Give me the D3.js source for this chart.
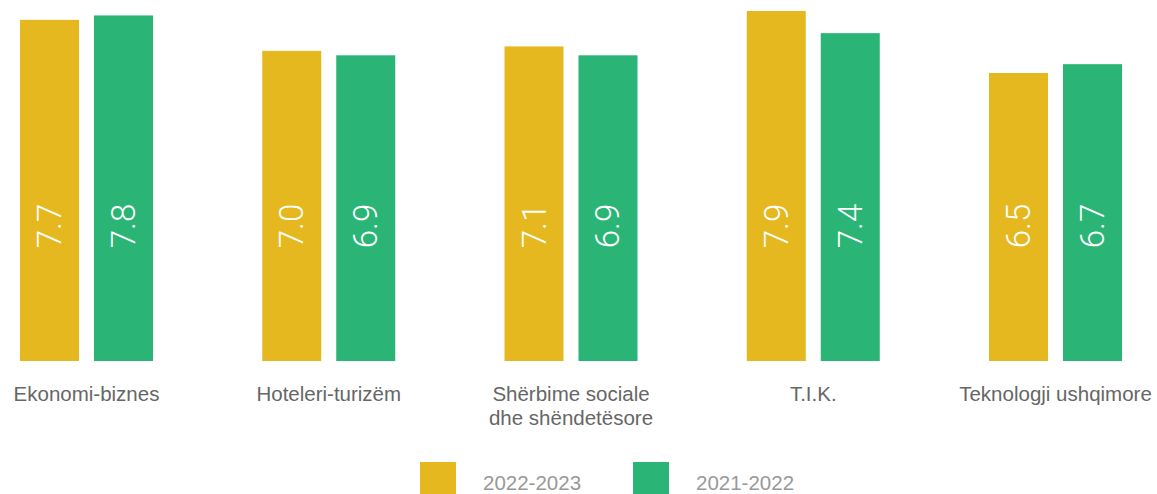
<!DOCTYPE html>
<html>
<head>
<meta charset="utf-8">
<script src="https://cdn.jsdelivr.net/npm/d3@7"></script>
<style>
  body { margin: 0; background: #fff; }
  svg { display: block; }
</style>
</head>
<body>
<svg id="chart"></svg>
<script>
const categories = [
  ["Ekonomi-biznes"],
  ["Hoteleri-turizëm"],
  ["Shërbime sociale", "dhe shëndetësore"],
  ["T.I.K."],
  ["Teknologji ushqimore"]
];
const series = ["2022-2023", "2021-2022"];
const values2022 = [7.7, 7.0, 7.1, 7.9, 6.5];
const values2021 = [7.8, 6.9, 6.9, 7.4, 6.7];
const colors = ["#E5B820", "#2AB577"];

const width = 1157, height = 494;
const svg = d3.select("#chart").attr("width", width).attr("height", height);

const keys = categories.map((c) => c.join(" "));
const rows = keys.map((k, i) => ({ key: k, lines: categories[i], vals: [values2022[i], values2021[i]] }));

const x0 = d3.scaleBand().domain(keys).range([20, 1122]).paddingInner(0.451).paddingOuter(0);
const x1 = d3.scaleBand().domain(series).range([0, x0.bandwidth()]).paddingInner(0.2027);
const y = d3.scaleLinear().domain([0, 7.9]).range([361, 11]);

const groups = svg.append("g").attr("class", "groups")
  .selectAll("g")
  .data(rows)
  .enter()
  .append("g")
  .attr("transform", (d) => `translate(${x0(d.key)},0)`);

// bars
groups.selectAll("rect")
  .data((d) => d.vals.map((v, i) => ({ s: series[i], v: v, i: i })))
  .enter()
  .append("rect")
  .attr("x", (d) => x1(d.s))
  .attr("y", (d) => y(d.v))
  .attr("width", x1.bandwidth())
  .attr("height", (d) => y(0) - y(d.v))
  .attr("fill", (d) => colors[d.i]);

// value labels, rotated
groups.selectAll("text.val")
  .data((d) => d.vals.map((v, i) => ({ s: series[i], v: v })))
  .enter()
  .append("text")
  .attr("class", "val")
  .attr("transform", (d) => `translate(${x1(d.s) + x1.bandwidth() / 2 + 11.5},226) rotate(-90)`)
  .attr("text-anchor", "middle")
  .attr("fill", "#fff")
  .style("font-family", "Roboto, 'Open Sans', sans-serif")
  .style("font-weight", 300)
  .style("font-size", "33px")
  .text((d) => d3.format(".1f")(d.v));

// category labels
const lab = groups.append("text")
  .attr("text-anchor", "middle")
  .attr("fill", "#666")
  .style("font-family", "'Liberation Sans', Arial, sans-serif")
  .style("font-size", "20.5px");
lab.selectAll("tspan")
  .data((d) => d.lines)
  .enter()
  .append("tspan")
  .attr("x", x0.bandwidth() / 2)
  .attr("y", (d, i) => 401 + i * 24)
  .text((d) => d);

// legend
const legend = svg.append("g").attr("class", "legend");
const lx = d3.scaleOrdinal().domain(series).range([420, 633]);
legend.selectAll("rect")
  .data(series)
  .enter()
  .append("rect")
  .attr("x", (d) => lx(d))
  .attr("y", 462)
  .attr("width", 36)
  .attr("height", 36)
  .attr("fill", (d, i) => colors[i]);
legend.selectAll("text")
  .data(series)
  .enter()
  .append("text")
  .attr("x", (d) => lx(d) + 63)
  .attr("y", 490)
  .attr("fill", "#999")
  .style("font-family", "'Liberation Sans', Arial, sans-serif")
  .style("font-size", "20.5px")
  .text((d) => d);
</script>
</body>
</html>
